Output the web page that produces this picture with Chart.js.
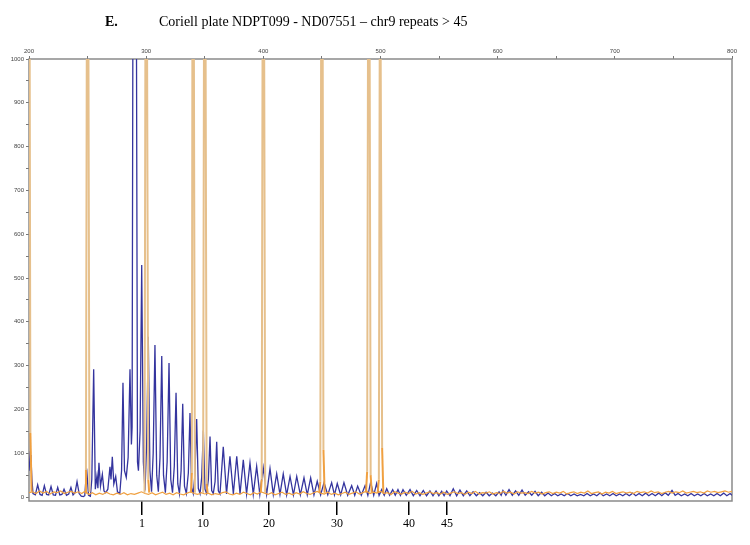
<!DOCTYPE html>
<html><head><meta charset="utf-8">
<script src="https://cdn.jsdelivr.net/npm/chart.js@4"></script>
<style>html,body{margin:0;padding:0;background:#fff}#wrap{width:750px;height:545px;position:relative}</style>
</head><body><div id="wrap"><canvas id="c" width="750" height="545"></canvas></div>
<script>
// ---------- text ----------
const panelLabel = "E.";
const titleText = "Coriell plate NDPT099 - ND07551 \u2013 chr9 repeats > 45";

// ---------- axes ----------
const sizeTicks = [200,250,300,350,400,450,500,550,600,650,700,750,800];
const rfuTicks = [0,50,100,150,200,250,300,350,400,450,500,550,600,650,700,750,800,850,900,950,1000];
const repeatLabels = ["1","10","20","30","40","45"];
const repeatSizes = [296.4,348.5,404.8,462.9,524.3,556.7];

// ---------- blue trace (sample, size bp vs RFU) ----------
const blueX = [200.0,201.0,201.7,202.5,203.4,205.4,207.4,209.4,211.2,213.1,215.0,216.8,218.8,220.7,222.6,224.5,226.3,228.1,229.9,232.0,233.9,235.8,237.6,239.3,241.0,242.8,244.6,246.4,247.6,249.2,250.8,252.4,253.6,255.2,256.6,258.0,258.8,259.7,261.0,262.6,264.0,265.5,267.3,269.1,270.0,271.1,272.4,274.0,275.5,277.5,279.0,280.2,281.5,283.0,284.6,286.2,287.4,288.0,288.9,291.4,292.6,293.4,294.8,296.2,297.6,299.0,300.4,301.8,303.2,304.6,306.0,307.5,309.0,310.4,311.8,313.3,314.8,316.4,317.9,319.5,321.0,322.5,324.0,325.5,327.0,328.4,329.8,331.2,332.7,334.3,336.0,337.4,338.8,340.2,341.6,343.1,344.5,346.0,347.4,348.8,350.2,351.6,353.1,354.5,355.9,357.3,358.8,360.2,361.6,363.0,365.8,368.6,371.5,374.4,377.3,380.1,382.9,385.7,388.6,391.4,394.3,397.0,399.9,402.8,405.7,408.5,411.4,414.2,417.0,419.9,422.8,425.7,428.5,431.6,434.7,437.5,440.4,443.2,446.0,448.9,451.8,455.0,458.3,460.7,463.1,466.0,468.8,472.0,475.4,478.0,480.5,483.6,486.8,489.2,491.6,494.2,496.7,498.8,501.0,503.2,505.3,507.8,510.4,512.6,514.9,517.0,519.2,522.0,525.2,528.0,530.9,533.7,536.5,539.3,542.2,544.8,547.4,549.8,552.2,554.3,556.5,559.3,562.1,565.0,567.8,570.7,573.6,576.3,579.0,581.8,584.6,587.3,590.1,592.8,595.6,598.4,601.2,603.0,604.5,607.0,609.7,612.5,615.3,618.0,620.8,623.5,626.4,629.1,631.9,634.6,637.5,640.2,643.0,645.8,648.6,651.3,654.1,656.8,659.7,662.4,665.2,667.9,670.8,673.5,676.3,679.0,681.9,684.6,687.4,690.1,693.0,695.7,698.5,701.2,704.1,706.8,709.6,712.3,715.2,717.9,720.7,723.4,726.3,729.0,731.8,734.5,737.4,740.1,742.9,745.6,748.8,751.5,754.0,756.7,759.6,762.3,765.1,767.8,770.7,773.4,776.2,778.9,781.8,784.5,787.3,790.0,792.9,795.6,798.4,800.0];
const blueY = [60,96,88,40,8,5,28,6,4,26,6,5,24,5,4,22,5,6,18,4,7,22,5,10,35,8,2,1,3,65,4,2,40,292,18,48,20,78,25,52,14,10,18,69,40,92,30,47,12,8,60,261,60,45,90,292,120,160,1400,1400,80,60,150,530,80,15,120,366,60,12,100,347,50,12,90,322,50,10,80,306,40,10,70,238,30,8,60,213,25,8,55,192,22,8,50,178,20,8,45,152,18,8,40,138,15,8,35,126,14,7,115,7,93,7,93,7,85,7,78,6,70,6,67,6,65,6,53,6,53,5,47,5,47,5,44,5,44,5,36,5,33,5,33,5,31,5,33,4,26,4,25,4,26,4,34,4,31,4,17,4,19,4,17,4,17,4,17,4,17,3,15,3,15,3,14,3,14,3,13,3,14,3,19,3,16,3,14,3,12,3,10,3,11,3,9,3,12,4,15,4,17,4,14,4,16,4,12,4,13,3,11,3,9,3,8,3,7,3,8,3,7,3,6,3,8,3,7,3,9,3,7,3,8,3,7,3,8,3,9,3,8,3,9,3,8,3,9,3,10,4,15,4,8,3,7,3,8,3,7,3,8,3,7,3,8,3,9,3,8,4];

// ---------- orange trace: baseline samples (every 3 bp from 200) ----------
const orangeStart = 200;
const orangeStep = 3;
const orangeNoise = [10,12,8,14,9,13,7,12,10,14,8,11,13,9,12,8,14,
6,10,5,9,6,11,7,5,9,6,10,5,8,6,9,12,8,
6,10,5,8,11,6,9,5,10,7,5,9,12,8,6,10,
7,9,5,8,6,10,12,7,5,9,6,11,8,5,10,7,12,
9,6,10,5,8,11,6,9,5,10,7,12,8,6,10,13,9,
7,11,6,9,5,8,11,6,9,12,7,10,14,8,11,9,13,
8,10,6,12,9,7,11,8,13,7,10,6,9,12,8,10,
7,11,6,9,12,8,10,6,11,8,13,7,10,9,12,7,
10,8,13,9,11,7,12,9,10,8,13,9,11,7,10,12,
8,11,9,13,7,10,12,8,11,9,14,8,10,12,7,11,
9,13,8,10,12,9,11,8,13,10,12,9,14,10,12,8,
11,13,9,12,10,14,9,11,13,10,12,9,14,11,13,10,
12,14,11,13];

// ---------- orange trace: size-standard peaks (null = gap) ----------
const standardX = [199.6,200.3,201.2,202.2,225,
247.8,248.6,249.6,250.4,251.6,275,
298.6,299.6,300.4,301.8,302.6,320,
338.2,339.0,339.6,340.4,341.6,345,
348.6,349.6,350.4,351.6,352.4,375,
397.8,398.6,399.6,400.4,401.6,425,
447.8,448.6,449.6,450.4,451.3,452.3,470,
487.6,488.6,489.6,490.4,491.6,492.5,495,
497.6,498.6,499.6,500.4,501.4,502.4];
const standardY = [1400,1400,146,12,null,
10,62,1400,1400,12,null,
10,1400,1400,40,10,null,
10,55,1400,1400,10,null,
10,1400,1400,30,10,null,
10,40,1400,1400,10,null,
10,35,1400,1400,108,10,null,
10,58,1400,1400,50,10,null,
10,40,1400,1400,112,10];

// ---------- build datasets ----------
const bluePts = blueX.map((x,i)=>({x:x,y:blueY[i]}));
const noisePts = orangeNoise.map((v,i)=>({x:orangeStart+i*orangeStep,y:v}));
const stdPts = standardX.map((x,i)=>({x:x,y:standardY[i]}));

const boxPlugin = {
  id:'box',
  beforeDatasetsDraw(chart){
    const a = chart.chartArea, c = chart.ctx;
    c.save(); c.strokeStyle = '#8a8a8a'; c.lineWidth = 1.5;
    c.strokeRect(a.left, a.top, a.right-a.left, a.bottom-a.top);
    c.restore();
  },
  afterDraw(chart){
    const c = chart.ctx;
    c.save(); c.fillStyle = '#000'; c.textBaseline = 'alphabetic';
    c.font = 'bold 14px "Liberation Serif"';
    c.fillText(panelLabel, 105, 26);
    c.font = '14px "Liberation Serif"';
    c.fillText(titleText, 159, 26);
    c.restore();
  }
};

const smallFont = {family:'"Liberation Sans", Arial', size:6};

new Chart(document.getElementById('c'), {
  type:'line',
  data:{datasets:[
    {label:'size standard', data:stdPts, xAxisID:'x', yAxisID:'y', borderWidth:2, pointRadius:0, tension:0, spanGaps:false,
     borderColor:'#e6c08c',
     segment:{borderColor:ctx=> (ctx.p0.parsed.y>200||ctx.p1.parsed.y>200)?'#e6c08c':'#f0a040'}},
    {label:'orange', data:noisePts, xAxisID:'x', yAxisID:'y', borderColor:'#f0a040', borderWidth:1.2, pointRadius:0, tension:0},
    {label:'blue', data:bluePts, xAxisID:'x', yAxisID:'y', borderColor:'#34349e', borderWidth:1.3, pointRadius:0, tension:0}
  ]},
  options:{
    responsive:false, animation:false, devicePixelRatio:1,
    layout:{padding:{left:0,right:18,top:0,bottom:0}},
    plugins:{legend:{display:false}, tooltip:{enabled:false}, title:{display:false}},
    scales:{
      x:{type:'linear', position:'top', min:200, max:800,
        afterBuildTicks:s=>{s.ticks = sizeTicks.map(v=>({value:v}));},
        afterFit:s=>{s.height = 59;},
        ticks:{autoSkip:false, maxRotation:0, padding:1, color:'#444', font:smallFont,
          callback:v=> v%100===0 ? String(v) : ''},
        grid:{drawOnChartArea:false, tickLength:3, color:'#777'},
        border:{display:false}},
      xb:{type:'linear', position:'bottom', min:200, max:800,
        afterBuildTicks:s=>{s.ticks = repeatSizes.map(v=>({value:v}));},
        afterFit:s=>{s.height = 44;},
        ticks:{autoSkip:false, maxRotation:0, padding:2, color:'#000',
          font:{family:'"Liberation Serif"', size:12},
          callback:(v,i)=>repeatLabels[i]},
        grid:{drawOnChartArea:false, tickLength:14, color:'#000', lineWidth:1.5},
        border:{display:false}},
      y:{type:'linear', position:'left', min:-9, max:1000,
        afterBuildTicks:s=>{s.ticks = rfuTicks.map(v=>({value:v}));},
        afterFit:s=>{s.width = 29;},
        ticks:{autoSkip:false, padding:2, color:'#444', font:smallFont,
          callback:v=> v%100===0 ? String(v) : ''},
        grid:{drawOnChartArea:false, tickLength:3, color:'#777'},
        border:{display:false}}
    }
  },
  plugins:[boxPlugin]
});
</script></body></html>
